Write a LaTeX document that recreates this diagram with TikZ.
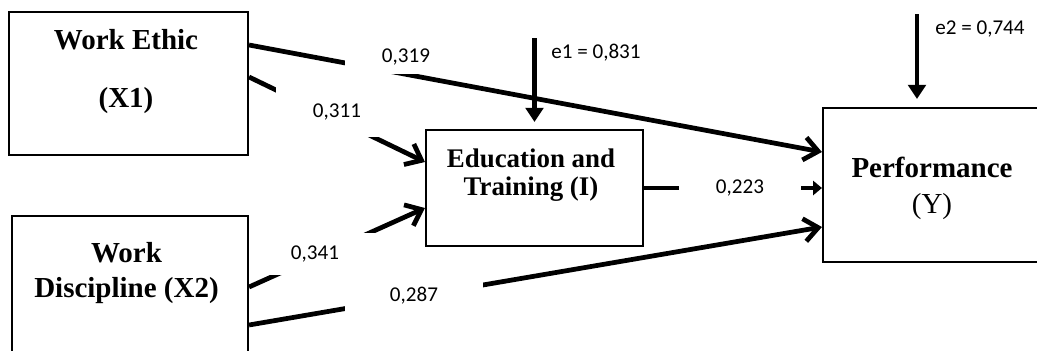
\documentclass[tikz,border=0pt]{standalone}
\usepackage{fontspec}
\setmainfont{Liberation Serif}
\newfontfamily\coeffont{Carlito}
\usetikzlibrary{arrows.meta}

\begin{document}
\begin{tikzpicture}[x=0.2mm,y=-0.2mm,
    varbox/.style={draw,line width=1.2pt,inner sep=0pt},
    vartext/.style={align=center,inner sep=0pt,font=\fontsize{16.5}{19.5}\selectfont\bfseries},
    coef/.style={font=\coeffont\fontsize{12}{14}\selectfont,inner sep=0pt},
    gapbox/.style={coef,fill=white,minimum width=24.4mm},
    coefarrow/.style={line width=2.7pt,-{Straight Barb[length=8pt,width=13pt]}},
    errarrow/.style={line width=2.7pt,-{Triangle[length=8pt,width=10pt]}}
    ]
    \clip (0,0) rectangle (1037,351);

    % the variables
    \node[varbox,minimum width=47.8mm,minimum height=28.6mm] (x1) at (128.5,83.5) {};
    \node[varbox,minimum width=47.2mm,minimum height=28.6mm] (x2) at (130,287.5) {};
    \node[varbox,minimum width=43.4mm,minimum height=23.2mm] (et) at (534.5,188) {};
    \node[varbox,minimum width=48mm,minimum height=30.8mm] (y) at (943,185) {};

    % their names
    \node[vartext] (x1t) at (126,71.5) {Work Ethic\\[13.6pt](X1)};
    \node[vartext] (x2t) at (126.5,273) {Work\\Discipline (X2)};
    \node[vartext,font=\fontsize{15.3}{16}\selectfont\bfseries] (ett) at (531,175) {Education and\\Training (I)};
    \node[vartext,font=\fontsize{16.5}{20.5}\selectfont\bfseries] (yt) at (932,188) {Performance\\{\mdseries(Y)}};

    % the paths
    \draw[coefarrow] (x1.east |- 0,45) -- (y.west |- 0,152);
    \draw[coefarrow] (x1.east |- 0,77) -- (et.west |- 0,162);
    \draw[coefarrow] (x2.east |- 0,287) -- (et.west |- 0,208);
    \draw[coefarrow] (x2.east |- 0,325) -- (y.west |- 0,227);
    \draw[errarrow,-{Triangle[length=5pt,width=8pt]}] (et.east) -- (et.east -| y.west);

    % the coefficients
    \node[gapbox,minimum height=6.8mm] (c319) at (406,57) {0,319};
    \node[gapbox,minimum height=10mm] (c311) at (337,112) {0,311};
    \node[gapbox,minimum height=8.4mm] (c341) at (315,254) {0,341};
    \node[gapbox,minimum width=27.6mm,minimum height=6mm] (c287) at (414,296) {0,287\hspace{3.2mm}};
    \node[gapbox,minimum height=4.8mm] (c223) at (740,188) {0,223};

    % the errors
    \coordinate (e1) at (534.5,38);
    \coordinate (e2) at (917,14);
    \draw[errarrow,shorten >=1.4mm] (e1) -- (et.north);
    \draw[errarrow,shorten >=1.6mm] (e2) -- (e2 |- y.north);
    \node[coef,anchor=west] (e1t) at (551,53) {e1 = 0,831};
    \node[coef,anchor=west] (e2t) at (935,29) {e2 = 0,744};
\end{tikzpicture}
\end{document}
